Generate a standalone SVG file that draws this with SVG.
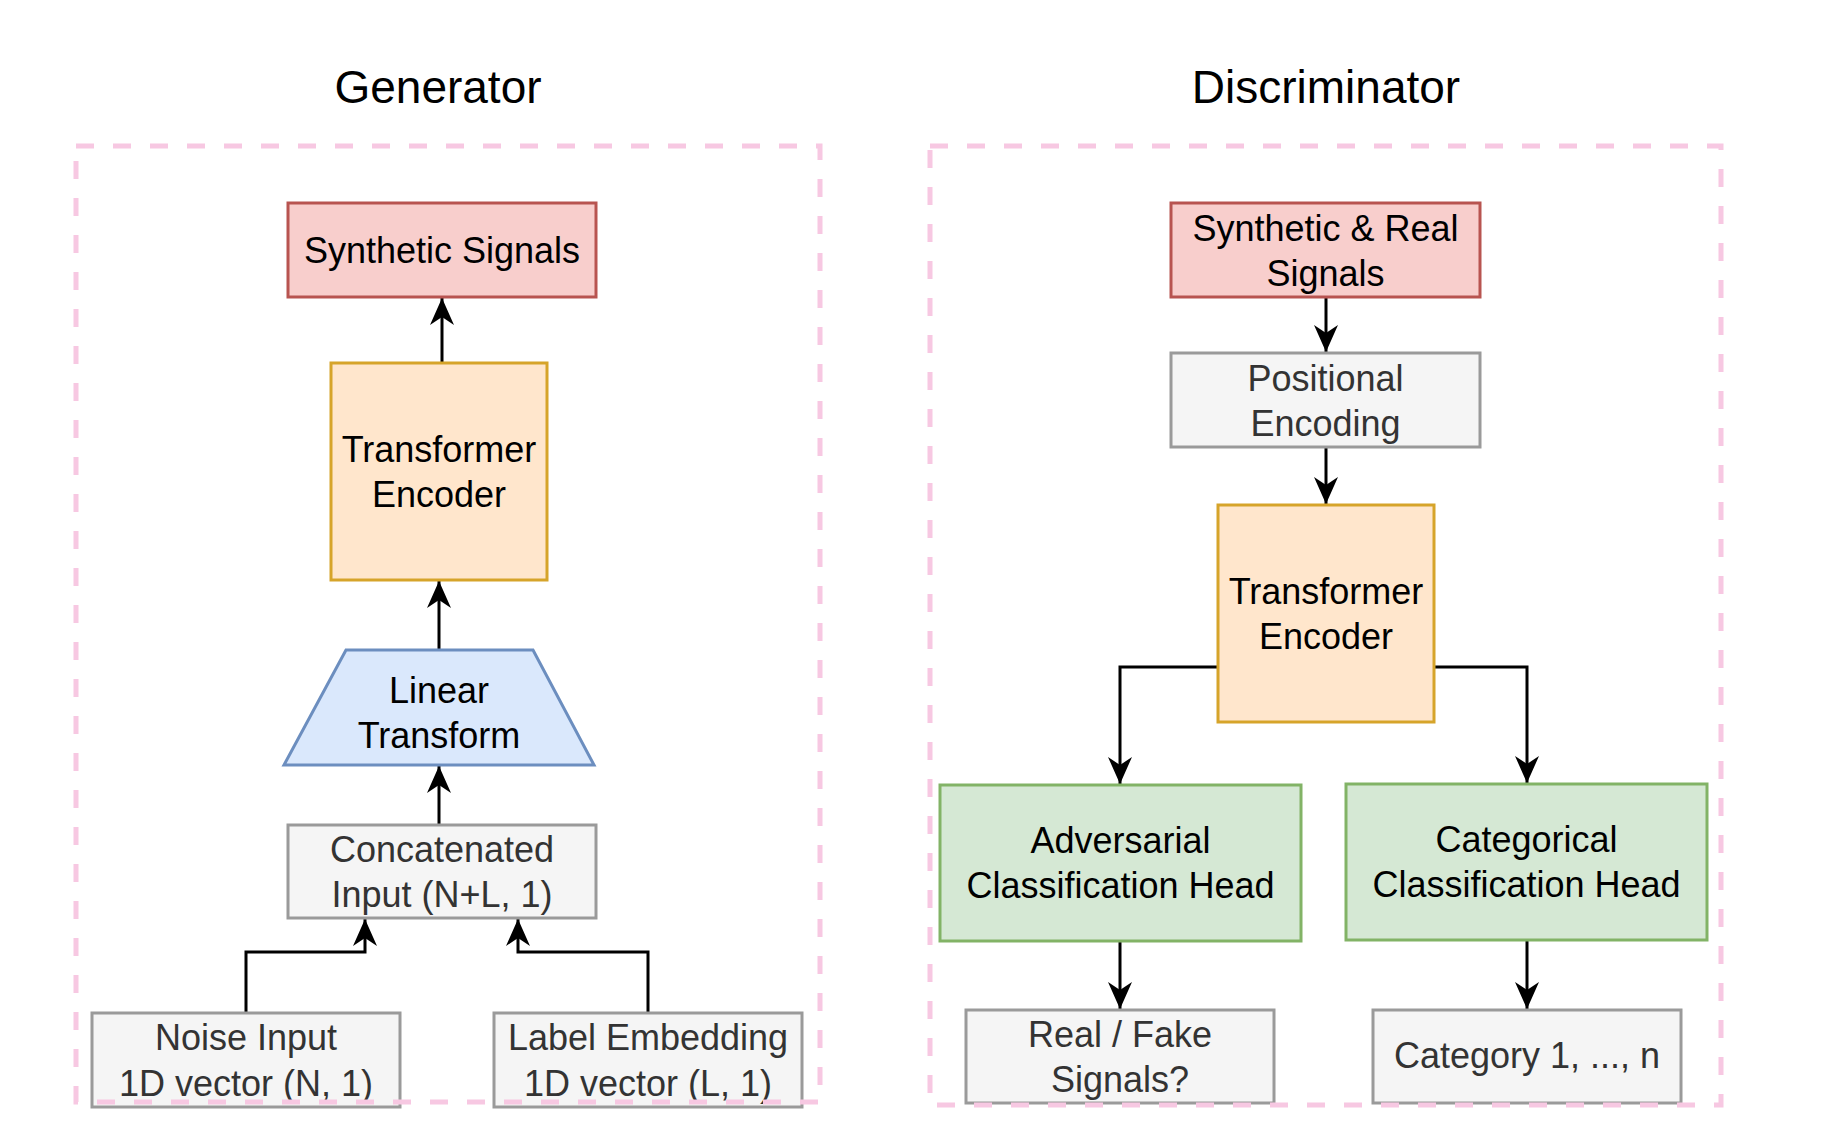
<svg xmlns="http://www.w3.org/2000/svg" width="1824" height="1148" viewBox="0 0 1824 1148">
<style>
text{font-family:"Liberation Sans",Arial,Helvetica,sans-serif;font-size:36px;text-anchor:middle;fill:#000}
.title{font-size:46px}
.gtxt{fill:#333}
.red{fill:#f8cecc;stroke:#b85450;stroke-width:3}
.org{fill:#ffe6cc;stroke:#d6a42a;stroke-width:3}
.blu{fill:#dae8fc;stroke:#6c8ebf;stroke-width:3}
.grn{fill:#d5e8d4;stroke:#82b366;stroke-width:3}
.gry{fill:#f5f5f5;stroke:#9a9a9a;stroke-width:3}
.edge{fill:none;stroke:#000;stroke-width:3;marker-end:url(#arr)}
.cont{fill:none;stroke:#f7c8e2;stroke-width:5;stroke-dasharray:18 19}
</style>
<defs>
<marker id="arr" markerUnits="userSpaceOnUse" markerWidth="30" markerHeight="30" viewBox="-28 -14 30 28" refX="0" refY="0" orient="auto">
<path d="M0,0 L-27,-12 L-19,0 L-27,12 Z" fill="#000"/>
</marker>
</defs>
<rect width="1824" height="1148" fill="#fff"/>
<text class="title" x="438" y="103">Generator</text>
<text class="title" x="1326" y="103">Discriminator</text>

<g id="connectors">
<path class="edge" d="M442,363 V298"/>
<path class="edge" d="M439,650 V581"/>
<path class="edge" d="M439,825 V766"/>
<path class="edge" d="M246,1013 V952 H365 V919"/>
<path class="edge" d="M648,1013 V952 H518 V919"/>
<path class="edge" d="M1326,297 V352"/>
<path class="edge" d="M1326,447 V504"/>
<path class="edge" d="M1218,667 H1120 V784"/>
<path class="edge" d="M1434,667 H1527 V783"/>
<path class="edge" d="M1120,941 V1009"/>
<path class="edge" d="M1527,940 V1009"/>
</g>

<g id="gen-synthetic"><rect class="red" x="288" y="203" width="308" height="94"/><text x="442" y="263">Synthetic Signals</text></g>
<g id="gen-transformer"><rect class="org" x="331" y="363" width="216" height="217"/><text x="439" y="462">Transformer</text><text x="439" y="507">Encoder</text></g>
<g id="gen-linear"><polygon class="blu" points="346,650 533,650 594,765 284,765"/><text x="439" y="703">Linear</text><text x="439" y="748">Transform</text></g>
<g id="gen-concat"><rect class="gry" x="288" y="825" width="308" height="93"/><text class="gtxt" x="442" y="862">Concatenated</text><text class="gtxt" x="442" y="907">Input (N+L, 1)</text></g>
<g id="gen-noise"><rect class="gry" x="92" y="1013" width="308" height="94"/><text class="gtxt" x="246" y="1050">Noise Input</text><text class="gtxt" x="246" y="1096">1D vector (N, 1)</text></g>
<g id="gen-label"><rect class="gry" x="494" y="1013" width="308" height="94"/><text class="gtxt" x="648" y="1050">Label Embedding</text><text class="gtxt" x="648" y="1096">1D vector (L, 1)</text></g>

<g id="dis-signals"><rect class="red" x="1171" y="203" width="309" height="94"/><text x="1325.5" y="241">Synthetic &amp; Real</text><text x="1325.5" y="286">Signals</text></g>
<g id="dis-positional"><rect class="gry" x="1171" y="353" width="309" height="94"/><text class="gtxt" x="1325.5" y="391">Positional</text><text class="gtxt" x="1325.5" y="436">Encoding</text></g>
<g id="dis-transformer"><rect class="org" x="1218" y="505" width="216" height="217"/><text x="1326" y="604">Transformer</text><text x="1326" y="649">Encoder</text></g>
<g id="dis-adversarial"><rect class="grn" x="940" y="785" width="361" height="156"/><text x="1120.5" y="853">Adversarial</text><text x="1120.5" y="898">Classification Head</text></g>
<g id="dis-categorical"><rect class="grn" x="1346" y="784" width="361" height="156"/><text x="1526.5" y="852">Categorical</text><text x="1526.5" y="897">Classification Head</text></g>
<g id="dis-realfake"><rect class="gry" x="966" y="1010" width="308" height="93"/><text class="gtxt" x="1120" y="1047">Real / Fake</text><text class="gtxt" x="1120" y="1092">Signals?</text></g>
<g id="dis-category"><rect class="gry" x="1373" y="1010" width="308" height="93"/><text class="gtxt" x="1527" y="1068">Category 1, ..., n</text></g>

<g id="containers">
<rect class="cont" x="76" y="146" width="744" height="956"/>
<rect class="cont" x="930" y="146" width="791" height="959"/>
</g>
</svg>
